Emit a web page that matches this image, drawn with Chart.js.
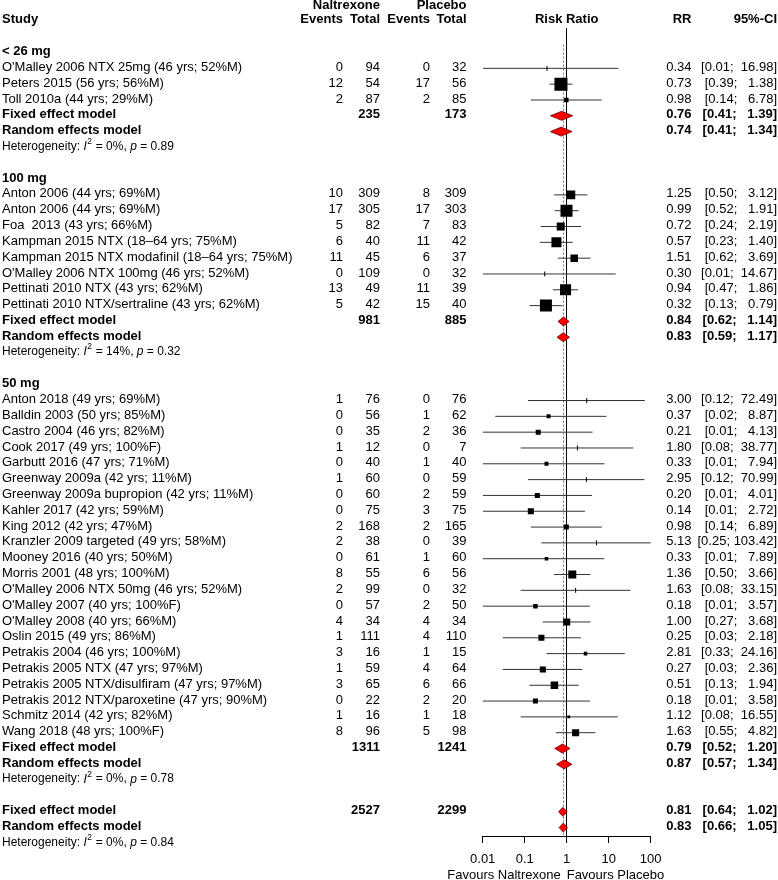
<!DOCTYPE html>
<html>
<head>
<meta charset="utf-8">
<title>Naltrexone vs placebo - forest plot</title>
<script src="https://cdn.jsdelivr.net/npm/chart.js@4.4.1/dist/chart.umd.min.js"></script>
<style>
  html, body { margin: 0; padding: 0; background: #fff; }
  #wrap { position: relative; width: 778px; height: 880px; }
</style>
</head>
<body>
<div id="wrap"><canvas id="forestChart"></canvas></div>
<script>
// ---- data ----
const groupNames = ['< 26 mg', '100 mg', '50 mg'];

const studyLabels = [
  "O'Malley 2006 NTX 25mg (46 yrs; 52%M)",
  'Peters 2015 (56 yrs; 56%M)',
  'Toll 2010a (44 yrs; 29%M)',
  'Anton 2006 (44 yrs; 69%M)',
  'Anton 2006 (44 yrs; 69%M)',
  'Foa  2013 (43 yrs; 66%M)',
  'Kampman 2015 NTX (18\u201364 yrs; 75%M)',
  'Kampman 2015 NTX modafinil (18\u201364 yrs; 75%M)',
  "O'Malley 2006 NTX 100mg (46 yrs; 52%M)",
  'Pettinati 2010 NTX (43 yrs; 62%M)',
  'Pettinati 2010 NTX/sertraline (43 yrs; 62%M)',
  'Anton 2018 (49 yrs; 69%M)',
  'Balldin 2003 (50 yrs; 85%M)',
  'Castro 2004 (46 yrs; 82%M)',
  'Cook 2017 (49 yrs; 100%F)',
  'Garbutt 2016 (47 yrs; 71%M)',
  'Greenway 2009a (42 yrs; 11%M)',
  'Greenway 2009a bupropion (42 yrs; 11%M)',
  'Kahler 2017 (42 yrs; 59%M)',
  'King 2012 (42 yrs; 47%M)',
  'Kranzler 2009 targeted (49 yrs; 58%M)',
  'Mooney 2016 (40 yrs; 50%M)',
  'Morris 2001 (48 yrs; 100%M)',
  "O'Malley 2006 NTX 50mg (46 yrs; 52%M)",
  "O'Malley 2007 (40 yrs; 100%F)",
  "O'Malley 2008 (40 yrs; 66%M)",
  'Oslin 2015 (49 yrs; 86%M)',
  'Petrakis 2004 (46 yrs; 100%M)',
  'Petrakis 2005 NTX (47 yrs; 97%M)',
  'Petrakis 2005 NTX/disulfiram (47 yrs; 97%M)',
  'Petrakis 2012 NTX/paroxetine (47 yrs; 90%M)',
  'Schmitz 2014 (42 yrs; 82%M)',
  'Wang 2018 (48 yrs; 100%F)'
];
const studyGroup = [0, 0, 0, 1, 1, 1, 1, 1, 1, 1, 1,
  2, 2, 2, 2, 2, 2, 2, 2, 2, 2, 2, 2, 2, 2, 2, 2, 2, 2, 2, 2, 2, 2];

const eventsNal = [0, 12, 2, 10, 17, 5, 6, 11, 0, 13, 5,
  1, 0, 0, 1, 0, 1, 0, 0, 2, 2, 0, 8, 2, 0, 4, 1, 3, 1, 3, 0, 1, 8];
const totalNal = [94, 54, 87, 309, 305, 82, 40, 45, 109, 49, 42,
  76, 56, 35, 12, 40, 60, 60, 75, 168, 38, 61, 55, 99, 57, 34, 111, 16, 59, 65, 22, 16, 96];
const eventsPla = [0, 17, 2, 8, 17, 7, 11, 6, 0, 11, 15,
  0, 1, 2, 0, 1, 0, 2, 3, 2, 0, 1, 6, 0, 2, 4, 4, 1, 4, 6, 2, 1, 5];
const totalPla = [32, 56, 85, 309, 303, 83, 42, 37, 32, 39, 40,
  76, 62, 36, 7, 40, 59, 59, 75, 165, 39, 60, 56, 32, 50, 34, 110, 15, 64, 66, 20, 18, 98];

const riskRatio = [0.34, 0.73, 0.98, 1.25, 0.99, 0.72, 0.57, 1.51, 0.30, 0.94, 0.32,
  3.00, 0.37, 0.21, 1.80, 0.33, 2.95, 0.20, 0.14, 0.98, 5.13, 0.33, 1.36, 1.63, 0.18, 1.00, 0.25, 2.81, 0.27, 0.51, 0.18, 1.12, 1.63];
const ciLow = [0.01, 0.39, 0.14, 0.50, 0.52, 0.24, 0.23, 0.62, 0.01, 0.47, 0.13,
  0.12, 0.02, 0.01, 0.08, 0.01, 0.12, 0.01, 0.01, 0.14, 0.25, 0.01, 0.50, 0.08, 0.01, 0.27, 0.03, 0.33, 0.03, 0.13, 0.01, 0.08, 0.55];
const ciHigh = [16.98, 1.38, 6.78, 3.12, 1.91, 2.19, 1.40, 3.69, 14.67, 1.86, 0.79,
  72.49, 8.87, 4.13, 38.77, 7.94, 70.99, 4.01, 2.72, 6.89, 103.42, 7.89, 3.66, 33.15, 3.57, 3.68, 2.18, 24.16, 2.36, 1.94, 3.58, 16.55, 4.82];
// study weight (%), estimated from the square sizes
const weightPct = [0, 12.0, 1.4, 5.7, 10.2, 4.5, 7.1, 4.0, 0, 8.6, 10.2,
  0, 1.1, 1.8, 0, 1.1, 0, 1.8, 2.6, 1.8, 0, 0.9, 4.5, 0, 1.4, 3.5, 2.6, 0.9, 2.6, 4.0, 1.8, 0.6, 3.5];

// summaries: index 0..2 = subgroups, 3 = overall
const fixedRR = [0.76, 0.84, 0.79, 0.81];
const fixedLow = [0.41, 0.62, 0.52, 0.64];
const fixedHigh = [1.39, 1.14, 1.20, 1.02];
const randomRR = [0.74, 0.83, 0.87, 0.83];
const randomLow = [0.41, 0.59, 0.57, 0.66];
const randomHigh = [1.34, 1.17, 1.34, 1.05];
const sumNal = [235, 981, 1311, 2527];
const sumPla = [173, 885, 1241, 2299];
const hetI2 = [0, 14, 0, 0];
const hetP = ['0.89', '0.32', '0.78', '0.84'];

const xTicks = [0.01, 0.1, 1, 10, 100];

// ---- row layout (row 0/1 = header) ----
const studyRow = [], headRow = [], fixedRow = [], randomRow = [], hetRow = [];
let row = 3;
groupNames.forEach((g, gi) => {
  headRow.push(row++);
  studyGroup.forEach((sg, i) => { if (sg === gi) studyRow[i] = row++; });
  fixedRow.push(row++);
  randomRow.push(row++);
  hetRow.push(row++);
  row++;
});
fixedRow.push(row++);
randomRow.push(row++);
hetRow.push(row++);

const FONT = "'Liberation Sans', Arial, Helvetica, sans-serif";
const col = { study: 2, evN: 343, nN: 380, evP: 430, nP: 466.5, rr: 691.5, ci: 777 };
const TXT_DY = -1;   // text sits a bit higher than the marks

function fmtCI(lo, hi) {
  let h = hi.toFixed(2);
  while (h.length < 6) h = ' ' + h;
  return '[' + lo.toFixed(2) + '; ' + h + ']';
}

// whiskers: one segment per study, gaps between
const whiskerData = [];
riskRatio.forEach((v, i) => {
  whiskerData.push({ x: ciLow[i], y: studyRow[i] });
  whiskerData.push({ x: ciHigh[i], y: studyRow[i] });
  whiskerData.push({ x: ciHigh[i], y: null });
});
const pointData = riskRatio.map((v, i) => ({ x: v, y: studyRow[i] }));

// texts, diamonds and the fixed-effect reference line
const forestPlugin = {
  id: 'forestText',
  beforeDatasetsDraw(chart) {
    const ctx = chart.ctx, xs = chart.scales.x, ys = chart.scales.y;
    const x = Math.round(xs.getPixelForValue(fixedRR[3])) + 0.5;
    ctx.save();
    ctx.strokeStyle = '#777';
    ctx.lineWidth = 1;
    ctx.setLineDash([2, 2]);
    ctx.beginPath();
    ctx.moveTo(x, ys.getPixelForValue(2.5));
    ctx.lineTo(x, ys.getPixelForValue(randomRow[3] + 0.5));
    ctx.stroke();
    ctx.restore();
  },
  afterDraw(chart) {
    const ctx = chart.ctx, xs = chart.scales.x, ys = chart.scales.y;
    const rowY = r => ys.getPixelForValue(r);

    function put(s, x, y, align, weight, size, style) {
      ctx.font = (style || 'normal') + ' ' + (weight || 'normal') + ' ' + (size || 13) + 'px ' + FONT;
      ctx.textAlign = align;
      ctx.textBaseline = 'middle';
      ctx.fillStyle = '#000';
      ctx.fillText(s, x, y);
      return ctx.measureText(s).width;
    }
    function diamond(est, lo, hi, r) {
      const y = rowY(r);
      ctx.beginPath();
      ctx.moveTo(xs.getPixelForValue(lo), y);
      ctx.lineTo(xs.getPixelForValue(est), y - 4.5);
      ctx.lineTo(xs.getPixelForValue(hi), y);
      ctx.lineTo(xs.getPixelForValue(est), y + 4.5);
      ctx.closePath();
      ctx.fillStyle = '#ff0000';
      ctx.fill();
      ctx.strokeStyle = '#5a0000';
      ctx.lineWidth = 0.8;
      ctx.stroke();
    }
    function het(i, r) {
      const y = rowY(r) + TXT_DY;
      let x = col.study;
      x += put('Heterogeneity: ', x, y, 'left', 'normal', 12);
      x += put('I', x, y, 'left', 'normal', 12, 'italic');
      x += put('2', x + 0.5, y - 5, 'left', 'normal', 8.5) + 1;
      x += put(' = ' + hetI2[i] + '%, ', x, y, 'left', 'normal', 12);
      x += put('p', x, y, 'left', 'normal', 12, 'italic');
      put(' = ' + hetP[i], x, y, 'left', 'normal', 12);
    }

    ctx.save();
    // header
    let y0 = rowY(0) + TXT_DY + 1, y1 = rowY(1) + TXT_DY;
    put('Naltrexone', col.nN, y0, 'right', 'bold');
    put('Placebo', col.nP, y0, 'right', 'bold');
    put('Study', col.study, y1, 'left', 'bold');
    put('Events', col.evN, y1, 'right', 'bold');
    put('Total', col.nN, y1, 'right', 'bold');
    put('Events', col.evP, y1, 'right', 'bold');
    put('Total', col.nP, y1, 'right', 'bold');
    put('Risk Ratio', (chart.chartArea.left + chart.chartArea.right) / 2, y1, 'center', 'bold');
    put('RR', col.rr, y1, 'right', 'bold');
    put('95%-CI', col.ci, y1, 'right', 'bold');

    // studies
    studyLabels.forEach((lab, i) => {
      const y = rowY(studyRow[i]) + TXT_DY;
      put(lab, col.study, y, 'left');
      put(String(eventsNal[i]), col.evN, y, 'right');
      put(String(totalNal[i]), col.nN, y, 'right');
      put(String(eventsPla[i]), col.evP, y, 'right');
      put(String(totalPla[i]), col.nP, y, 'right');
      put(riskRatio[i].toFixed(2), col.rr, y, 'right');
      put(fmtCI(ciLow[i], ciHigh[i]), col.ci, y, 'right');
    });

    // subgroup headers and summaries
    groupNames.forEach((g, gi) => put(g, col.study, rowY(headRow[gi]) + TXT_DY, 'left', 'bold'));
    fixedRR.forEach((v, i) => {
      const yf = rowY(fixedRow[i]) + TXT_DY, yr = rowY(randomRow[i]) + TXT_DY;
      put('Fixed effect model', col.study, yf, 'left', 'bold');
      put(String(sumNal[i]), col.nN, yf, 'right', 'bold');
      put(String(sumPla[i]), col.nP, yf, 'right', 'bold');
      put(v.toFixed(2), col.rr, yf, 'right', 'bold');
      put(fmtCI(fixedLow[i], fixedHigh[i]), col.ci, yf, 'right', 'bold');
      put('Random effects model', col.study, yr, 'left', 'bold');
      put(randomRR[i].toFixed(2), col.rr, yr, 'right', 'bold');
      put(fmtCI(randomLow[i], randomHigh[i]), col.ci, yr, 'right', 'bold');
      het(i, hetRow[i]);
      diamond(v, fixedLow[i], fixedHigh[i], fixedRow[i]);
      diamond(randomRR[i], randomLow[i], randomHigh[i], randomRow[i]);
    });

    // favours labels under the axis
    const xRef = xs.getPixelForValue(1);
    put('Favours Naltrexone', xRef - 6, 875, 'right');
    put('Favours Placebo', xRef, 875, 'left');
    ctx.restore();
  }
};

Chart.defaults.font.family = FONT;
Chart.defaults.color = '#000';

const forestCtx = document.getElementById('forestChart').getContext('2d');
const forestChart = new Chart(forestCtx, {
  type: 'scatter',
  data: {
    datasets: [
      {
        // study squares (tiny weights drawn as a tick)
        data: pointData,
        order: 0,
        showLine: false,
        backgroundColor: '#000',
        borderColor: '#000',
        pointStyle: c => weightPct[c.dataIndex] > 0 ? 'rect' : 'line',
        pointRotation: c => weightPct[c.dataIndex] > 0 ? 0 : 90,
        pointRadius: c => weightPct[c.dataIndex] > 0 ? 3.76 * Math.sqrt(weightPct[c.dataIndex]) / Math.SQRT2 : 2.5,
        pointBorderWidth: c => weightPct[c.dataIndex] > 0 ? 0 : 1,
        pointHoverRadius: 0
      },
      {
        // confidence intervals
        data: whiskerData,
        order: 1,
        showLine: true,
        spanGaps: false,
        borderColor: '#333',
        borderWidth: 1,
        pointRadius: 0,
        pointHoverRadius: 0
      }
    ]
  },
  options: {
    responsive: true,
    maintainAspectRatio: false,
    animation: false,
    events: [],
    layout: { padding: { left: 482.7, right: 127.3, top: 28, bottom: 0 } },
    scales: {
      x: {
        type: 'logarithmic',
        min: 0.01,
        max: 100,
        afterBuildTicks: s => { s.ticks = xTicks.map(v => ({ value: v })); },
        afterFit: s => { s.height = 44; },
        ticks: { callback: v => String(v), color: '#000', font: { size: 13 }, padding: 9, maxRotation: 0, autoSkip: false },
        grid: {
          drawOnChartArea: true,
          color: c => (c.tick && c.tick.value === 1) ? '#000' : 'rgba(0,0,0,0)',
          tickColor: '#000',
          tickLength: 7,
          lineWidth: 1
        },
        border: { display: true, color: '#000', width: 1 }
      },
      y: {
        type: 'linear',
        display: false,
        reverse: true,
        min: 1.45,
        max: 52.53
      }
    },
    plugins: {
      legend: { display: false },
      tooltip: { enabled: false }
    }
  },
  plugins: [forestPlugin]
});
</script>
</body>
</html>
